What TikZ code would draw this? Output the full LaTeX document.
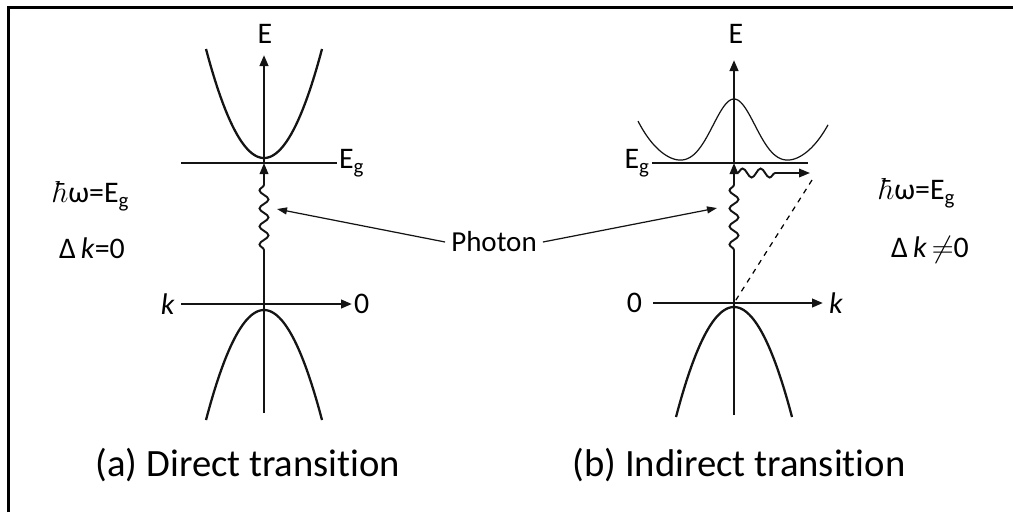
\documentclass[tikz,border=0pt]{standalone}
\usepackage{fontspec}
\setmainfont{Carlito}[Ligatures=NoCommon]
\usepackage{tikz}
\usetikzlibrary{arrows.meta,decorations.pathmorphing}
\definecolor{bandInk}{RGB}{20,20,20}

\begin{document}
\begin{tikzpicture}[x=0.02cm, y=-0.02cm,
  axis/.style={line width=1.4pt, bandInk},
  band/.style={line width=1.3pt, bandInk},
  thinband/.style={line width=0.7pt, bandInk},
  tip/.style={-{Triangle[length=0.22cm, width=0.17cm]}},
  photon/.style={line width=1.1pt, bandInk, decorate,
    decoration={snake, segment length=0.36cm, amplitude=0.09cm, pre length=#1, post length=0.3cm}},
  pointer/.style={line width=0.7pt, bandInk, -{Triangle[length=0.2cm, width=0.14cm]}},
  lbl/.style={font=\fontsize{17}{20}\selectfont},
  caption/.style={font=\fontsize{22}{26}\selectfont}]
\useasboundingbox (0,0) rectangle (1013,512);
%
\coordinate (frameBot) at (8.5,512);
\coordinate (frameCorner) at (8.5,7.5);
\coordinate (frameRight) at (1013,7.5);
\draw[line width=1.7pt] (frameBot) -- (frameCorner) -- (frameRight);

%
\begin{scope}[shift={(264,0)}]
\coordinate (kStartL) at (-83,304);
\coordinate (originL) at (0,304);
\coordinate (kEndL) at (88,304);
\coordinate (botL) at (0,413);
\coordinate (gapL) at (0,163);
\coordinate (topL) at (0,55);
\coordinate (egStartL) at (-83,163);
\coordinate (egEndL) at (73,163);
\draw[axis, tip] (kStartL) -- (kEndL);
\draw[axis] (botL) -- (originL);
\draw[photon=1.08cm, tip] (originL) -- (gapL);
\draw[axis, tip] (gapL) -- (topL);
\draw[axis] (egStartL) -- (egEndL);
\draw[band, domain=-58:58, samples=80] plot (\x,{158-109*(\x/58)^2});
\draw[band, domain=-58:58, samples=80] plot (\x,{310+110*(\x/58)^2});
\node[lbl, left] (kLabelL) at (kStartL) {\textit{k}};
\node[lbl, right, inner sep=1pt] (zeroL) at (kEndL) {0};
\node[lbl] (eLabelL) at (1,34) {E};
\node[lbl, right, inner sep=1pt] (egLabelL) at (egEndL) {E\textsubscript{g}};
\node[lbl] (hwL) at (-172,196) {$\hbar$ω=E\textsubscript{g}};
\node[lbl] (dkL) at (-172,248) {Δ\,\textit{k}=0};
\node[caption] (capA) at (-16,465) {(a) Direct transition};
\end{scope}

%
\begin{scope}[shift={(734,0)}]
\coordinate (kStartR) at (-81,303);
\coordinate (originR) at (0,303);
\coordinate (kEndR) at (89,303);
\coordinate (botR) at (0,415);
\coordinate (gapR) at (0,163);
\coordinate (topR) at (0,60);
\coordinate (egStartR) at (-82,163);
\coordinate (egEndR) at (74,163);
\coordinate (phononStart) at (3,173);
\coordinate (phononEnd) at (76,173);
\coordinate (dashTop) at (78,180);
\draw[axis, tip] (kStartR) -- (kEndR);
\draw[axis] (botR) -- (originR);
\draw[photon=1.06cm, tip] (originR) -- (gapR);
\draw[axis, tip] (gapR) -- (topR);
\draw[axis] (egStartR) -- (egEndR);
\draw[photon=0cm, decoration={post length=0.56cm}, tip] (phononStart) -- (phononEnd);
\draw[dashed, line width=0.7pt] (dashTop) -- (originR);
\draw[band, domain=-58:58, samples=80] plot (\x,{307+110*(\x/58)^2});
\draw[thinband, domain=-96:94, samples=140] plot (\x,{167.35-68.35*exp(-(\x/30)^2)-3.403*(\x/50)^4});
\node[lbl, left, inner sep=6pt] (zeroR) at (kStartR) {0};
\node[lbl, right] (kLabelR) at (kEndR) {\textit{k}};
\node[lbl] (eLabelR) at (2,34) {E};
\node[lbl, left, inner sep=1pt] (egLabelR) at (egStartR) {E\textsubscript{g}};
\node[lbl] (hwR) at (184,193) {$\hbar$ω=E\textsubscript{g}};
\node[lbl] (dkR) at (196,250) {Δ\,\textit{k}\,$\neq$0};
\node[caption] (capB) at (5,465) {(b) Indirect transition};
\end{scope}

%
\node[lbl, font=\fontsize{16.5}{19}\selectfont] (photonLbl) at (494,242) {Photon};
\coordinate (waveL) at (277,209);
\coordinate (waveR) at (717,208);
\draw[pointer] (photonLbl.west) -- (waveL);
\draw[pointer] (photonLbl.east) -- (waveR);
\end{tikzpicture}
\end{document}
